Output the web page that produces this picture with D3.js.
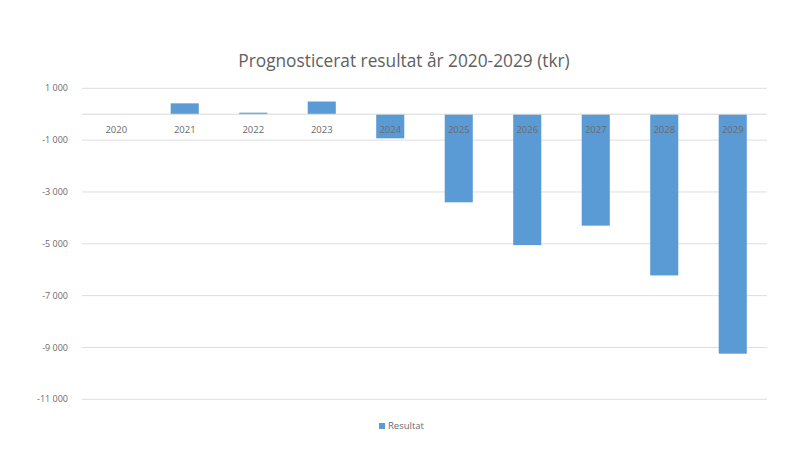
<!DOCTYPE html>
<html>
<head>
<meta charset="utf-8">
<script src="https://cdn.jsdelivr.net/npm/d3@7"></script>
<style>
  body { margin: 0; background: #fff; }
  text { font-family: "Open Sans", "Liberation Sans", sans-serif; }
</style>
</head>
<body>
<div id="chart"></div>
<script>
// data (tkr)
var years = ['2020','2021','2022','2023','2024','2025','2026','2027','2028','2029'];
var resultat = [0, 420, 60, 490, -930, -3400, -5050, -4300, -6220, -9240];
var yTicks = [1000, -1000, -3000, -5000, -7000, -9000, -11000];

var width = 786, height = 459;
var margin = {top: 88, right: 19, bottom: 60, left: 82};

var svg = d3.select("#chart")
  .append("svg")
  .attr("width", width)
  .attr("height", height);

var x = d3.scaleBand()
  .domain(years)
  .range([margin.left, width - margin.right])
  .paddingInner(0.59)
  .paddingOuter(0.295);

var y = d3.scaleLinear()
  .domain([1000, -11000])
  .range([88.3, 399.3]);

var fmt = function(v) {
  var s = d3.format(",")(Math.abs(v)).replace(/,/g, " ");
  return (v < 0 ? "-" : "") + s;
};

// title
svg.append("text")
  .attr("x", 404)
  .attr("y", 67)
  .attr("text-anchor", "middle")
  .attr("fill", "#606060")
  .style("font-size", "17.3px")
  .text("Prognosticerat resultat år 2020-2029 (tkr)");

// gridlines
svg.append("g")
  .selectAll("line")
  .data(yTicks)
  .join("line")
  .attr("x1", margin.left)
  .attr("x2", width - margin.right)
  .attr("y1", d => y(d))
  .attr("y2", d => y(d))
  .attr("stroke", "#dedede")
  .attr("stroke-width", 1);

// y labels
svg.append("g")
  .selectAll("text")
  .data(yTicks)
  .join("text")
  .attr("x", 68)
  .attr("y", d => y(d))
  .attr("dy", "0.35em")
  .attr("text-anchor", "end")
  .attr("fill", "#6a6a6a")
  .style("font-size", "9px")
  .text(fmt);

// bars
svg.append("g")
  .selectAll("rect")
  .data(resultat)
  .join("rect")
  .attr("x", (d, i) => x(years[i]))
  .attr("width", x.bandwidth())
  .attr("y", d => y(Math.max(0, d)))
  .attr("height", d => Math.abs(y(d) - y(0)))
  .attr("fill", "#5b9bd5");

// zero axis line
svg.append("line")
  .attr("x1", margin.left)
  .attr("x2", width - margin.right)
  .attr("y1", y(0))
  .attr("y2", y(0))
  .attr("stroke", "#d9d9d9")
  .attr("stroke-width", 1);

// category labels next to axis
svg.append("g")
  .selectAll("text")
  .data(years)
  .join("text")
  .attr("x", d => x(d) + x.bandwidth() / 2)
  .attr("y", y(0) + 19)
  .attr("text-anchor", "middle")
  .attr("fill", "#6a6a6a")
  .style("font-size", "9.5px")
  .text(d => d);

// legend
var lg = svg.append("g").attr("transform", "translate(379,423)");
lg.append("rect")
  .attr("width", 6)
  .attr("height", 6)
  .attr("fill", "#5b9bd5");
lg.append("text")
  .attr("x", 9)
  .attr("y", 3)
  .attr("dy", "0.35em")
  .attr("fill", "#6a6a6a")
  .style("font-size", "9.5px")
  .text("Resultat");
</script>
</body>
</html>
